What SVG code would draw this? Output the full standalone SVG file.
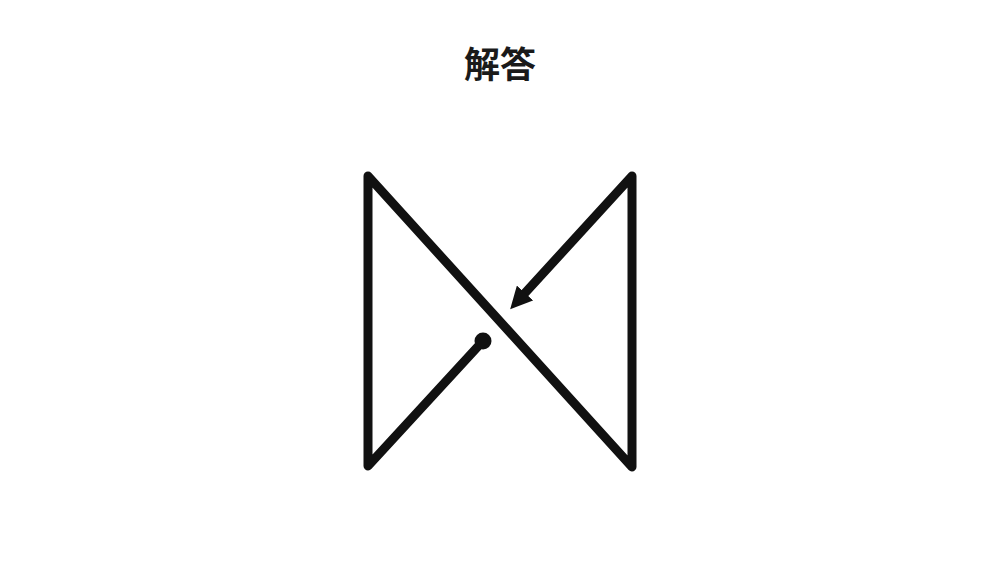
<svg xmlns="http://www.w3.org/2000/svg" width="1000" height="563" viewBox="0 0 1000 563">
  <style>
    .title { font-family: "Noto Sans CJK JP", "Noto Sans CJK SC", sans-serif; font-size: 36px; font-weight: bold; fill: #1a1a1a; }
    .stroke { fill: none; stroke: #111; stroke-width: 9; stroke-linecap: round; stroke-linejoin: round; }
  </style>
  <defs>
    <marker id="arrow" viewBox="0 0 22 22" markerWidth="22" markerHeight="22" markerUnits="userSpaceOnUse" refX="0" refY="11" orient="auto">
      <path d="M0,0 L22,11 L0,22 z" fill="#111"/>
    </marker>
  </defs>
  <rect width="1000" height="563" fill="#fff"/>
  <g id="title">
    <text class="title" x="500" y="78" text-anchor="middle">解答</text>
  </g>
  <g id="start">
    <circle cx="483" cy="341" r="8.5" fill="#111"/>
  </g>
  <g id="connectors">
    <polyline class="stroke" points="483,341 368,466 368,176 632,467 632,176 525,293" marker-end="url(#arrow)"/>
  </g>
</svg>
